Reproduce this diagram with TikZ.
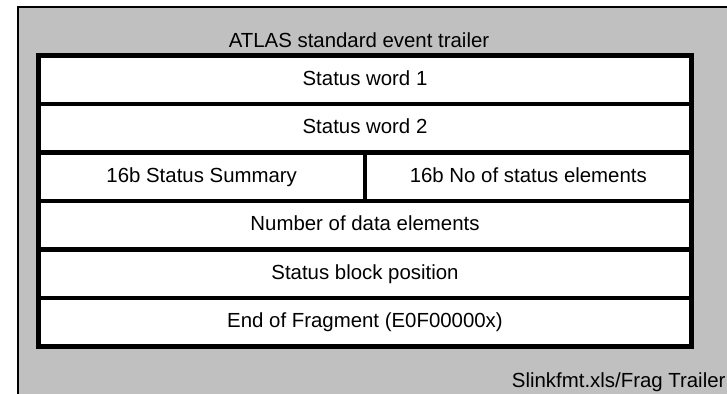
\documentclass[tikz,border=0pt]{standalone}
\usepackage{fontspec}
\setmainfont{Liberation Sans}
\usepackage{xcolor}
\usepackage{tikz}
\usetikzlibrary{positioning}

\definecolor{framegrey}{RGB}{192,192,192}

\begin{document}
\begin{tikzpicture}[x=0.75pt, y=-0.75pt]
	\tikzset{
		field/.style={draw=black, line width=3.4pt, fill=white, outer sep=0pt, inner sep=0pt,
			minimum width=489.9pt, minimum height=36.4pt, text height=11pt, text depth=2.6pt,
			font=\fontsize{15.3}{18}\selectfont},
		halffield/.style={field, minimum width=244.95pt},
		caption/.style={inner sep=0pt, font=\fontsize{15.3}{18}\selectfont}
	}
	\useasboundingbox (0,0) rectangle (727,393);
	\clip (0,0) rectangle (727,393);
	
	% ---- Grey frame ----
	\draw[line width=1.5pt, fill=framegrey] (18.3,7) rectangle (760,420);
	\node[caption, anchor=base] (title) at (359,47.5) {ATLAS standard event trailer};
	
	% ---- Trailer words ----
	\node[field] (sw1) at (365,79.5) {Status word 1};
	\node[field, below=0pt of sw1] (sw2) {Status word 2};
	\node[halffield, below right=0pt and 0pt of sw2.south west] (summ) {16b Status Summary};
	\node[halffield, right=0pt of summ] (nstat) {16b No of status elements};
	\node[field, below=0pt of summ.south west, anchor=north west] (ndata) {Number of data elements};
	\node[field, below=0pt of ndata] (spos) {Status block position};
	\node[field, below=0pt of spos] (eof) {End of Fragment (E0F00000x)};
	
	% ---- Footer ----
	\node[caption, anchor=base west] (src) at (511.7,387) {Slinkfmt.xls/Frag Trailer};
\end{tikzpicture}
\end{document}
